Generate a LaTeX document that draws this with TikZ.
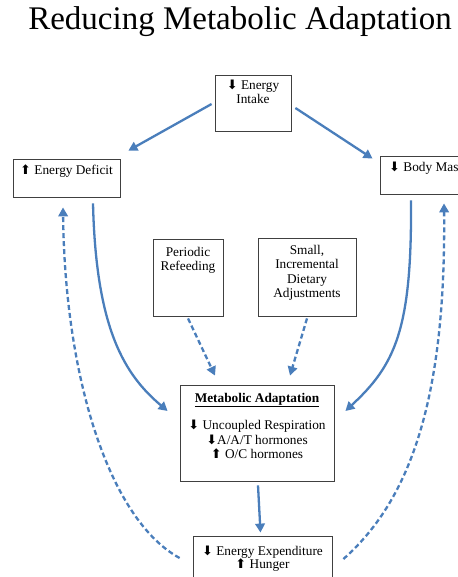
\documentclass[tikz,border=0pt]{standalone}
\usepackage{fontspec}
\setmainfont{Liberation Serif}
\newfontfamily\arrfont{DejaVu Sans}
\usetikzlibrary{arrows.meta}
\newcommand\dnarr{{\arrfont\fontsize{13}{10}\selectfont ⬇}}
\newcommand\uparr{{\arrfont\fontsize{13}{10}\selectfont ⬆}}
\definecolor{arrblue}{HTML}{4A7EBB}
\begin{document}
\begin{tikzpicture}[x=1pt,y=-1pt,
  box/.style={draw=black!75,line width=0.8pt,inner sep=0pt},
  txt/.style={inner sep=0pt,align=center,font=\fontsize{13.3}{14.5}\selectfont},
  conn/.style={draw=arrblue,line width=2.3pt,-{Triangle[length=9pt,width=9.5pt]}},
  dconn/.style={conn,dash pattern=on 5pt off 3pt}]
\useasboundingbox (0,0) rectangle (457,577);
% title
\node[inner sep=0pt,anchor=base,font=\fontsize{33}{40}\selectfont] (title) at (240,30) {Reducing Metabolic Adaptation};
% boxes
\node[box,minimum width=76pt,minimum height=56pt] (intake) at (253,103) {};
\node[box,minimum width=107pt,minimum height=38pt] (deficit) at (66.5,178) {};
\node[box,minimum width=110pt,minimum height=38pt] (body) at (435,175) {};
\node[box,minimum width=70pt,minimum height=77pt] (periodic) at (188,277.5) {};
\node[box,minimum width=98pt,minimum height=78pt] (small) at (307,277) {};
\node[box,minimum width=154pt,minimum height=96pt] (meta) at (257,433) {};
\node[box,minimum width=139pt,minimum height=50pt] (expend) at (262.5,561) {};
% texts
\node[txt,anchor=base] (intaketext) at (253,90) {\dnarr\ Energy};
\node[txt,anchor=base] (intaketext2) at (253,104) {Intake};
\node[txt,anchor=base] (deficittext) at (66.5,175) {\uparr\ Energy Deficit};
\node[txt,anchor=base west] (bodytext) at (389,172) {\dnarr\ Body Mass};
\node[txt,anchor=north] (periodictext) at (188,247) {Periodic\\Refeeding};
\node[txt,anchor=north] (smalltext) at (307,245) {Small,\\Incremental\\Dietary\\Adjustments};
\node[txt,anchor=base] (metatitle) at (257,402) {\textbf{\underline{Metabolic Adaptation}}};
\node[txt,anchor=north] (metatext) at (257,420) {\dnarr\ Uncoupled Respiration\\\dnarr A/A/T hormones\\\uparr\ O/C hormones};
\node[txt,anchor=base] (expendtext) at (262.5,555) {\dnarr\ Energy Expenditure};
\node[txt,anchor=base] (expendtext2) at (262.5,568.5) {\uparr\ Hunger};
% connectors
\draw[conn] ([xshift=-3pt,yshift=-1pt]intake.west) -- ([xshift=8pt,yshift=8pt]deficit.north east);
\draw[conn] ([xshift=4pt,yshift=-5pt]intake.east) -- ([xshift=-7pt,yshift=-3pt]body.north west);
\draw[conn] ([xshift=26.5pt,yshift=-6pt]deficit.south) .. controls (96,330) and (125,375) .. ([xshift=-12pt,yshift=22pt]meta.west);
\draw[conn] ([xshift=-24pt,yshift=-6pt]body.south) .. controls (412,330) and (395,365) .. ([xshift=11pt,yshift=22pt]meta.east);
\draw[dconn] ([yshift=-2pt]periodic.south) -- ([xshift=-42pt,yshift=9pt]meta.north);
\draw[dconn] ([yshift=-2pt]small.south) -- ([xshift=33pt,yshift=9pt]meta.north);
\draw[conn] ([xshift=1pt,yshift=-4pt]meta.south) -- ([xshift=-2pt,yshift=3pt]expend.north);
\draw[dconn] ([xshift=-13pt,yshift=3pt]expend.west) .. controls (110,520) and (65,380) .. ([xshift=-3.5pt,yshift=-10pt]deficit.south);
\draw[dconn] ([xshift=11pt,yshift=2pt]expend.east) .. controls (410,500) and (446,400) .. ([xshift=9pt,yshift=-9pt]body.south);
\end{tikzpicture}
\end{document}
